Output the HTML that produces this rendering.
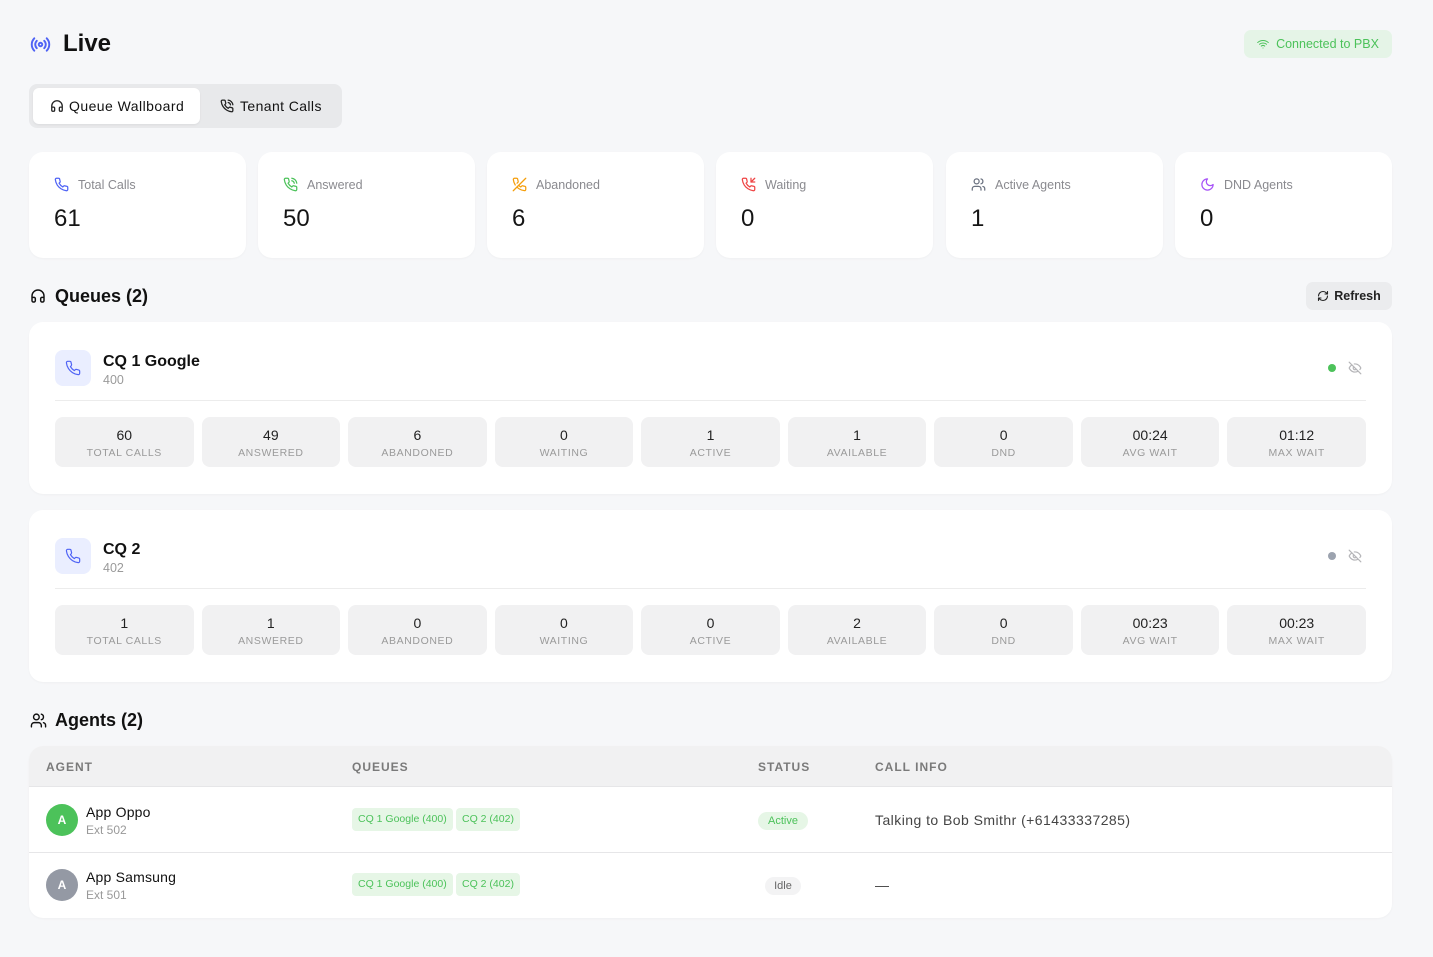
<!DOCTYPE html>
<html><head><meta charset="utf-8">
<style>
*{box-sizing:border-box;margin:0;padding:0}
body{width:1433px;height:957px;background:#f6f7f9;font-family:"Liberation Sans",sans-serif;color:#111;position:relative;overflow:hidden}
.abs{position:absolute}
svg{display:block}
.card{position:absolute;background:#fff;border-radius:14px;box-shadow:0 1px 2px rgba(0,0,0,0.03)}
.slabel{position:absolute;left:49px;top:26px;font-size:12.5px;color:#8a8a8f;line-height:14px}
.sicon{position:absolute;left:25px;top:25px}
.snum{position:absolute;left:25px;top:52px;font-size:24px;line-height:30px;color:#151515}
.qicon{position:absolute;left:26px;width:36px;height:36px;border-radius:8px;background:#eaeeff;display:flex;align-items:center;justify-content:center}
.qtitle{position:absolute;left:74px;font-size:16px;font-weight:bold;color:#111;line-height:20px}
.qsub{position:absolute;left:74px;font-size:12.5px;color:#9a9a9a;line-height:14px}
.div{position:absolute;left:26px;right:26px;height:1px;background:#ececec}
.grid{position:absolute;left:26px;right:26px;height:50px;display:grid;grid-template-columns:repeat(9,1fr);gap:8px}
.box{background:#f1f1f2;border-radius:8px;text-align:center}
.box .n{font-size:14px;color:#222;margin-top:10px;line-height:16px}
.box .l{font-size:10.5px;color:#9a9a9a;letter-spacing:0.6px;margin-top:4px;line-height:12px}
.dot{position:absolute;width:8px;height:8px;border-radius:50%}
.th{position:absolute;top:14px;font-size:12px;font-weight:bold;color:#7a7a7a;letter-spacing:1px}
.tag{position:absolute;height:23px;line-height:23px;background:#e6f6e6;color:#4cc25a;font-size:10.5px;border-radius:4px;padding:0 6px;white-space:nowrap}
.av{position:absolute;left:17px;width:32px;height:32px;border-radius:50%;color:#fff;font-size:12px;font-weight:bold;text-align:center;line-height:32px}
.nm{position:absolute;left:57px;font-size:14px;color:#111;line-height:16px;letter-spacing:0.2px}
.ext{position:absolute;left:57px;font-size:12px;color:#999;line-height:14px}
</style></head><body>

<!-- header -->
<div class="abs" style="left:30px;top:34px">
<svg width="21" height="21" viewBox="0 0 24 24" fill="none" stroke="#4f63f5" stroke-width="2.2" stroke-linecap="round" stroke-linejoin="round"><circle cx="12" cy="12" r="2"/><path d="M16.24 7.76a6 6 0 0 1 0 8.49"/><path d="M7.76 16.24a6 6 0 0 1 0-8.49"/><path d="M19.07 4.93a10 10 0 0 1 0 14.14"/><path d="M4.93 19.07a10 10 0 0 1 0-14.14"/></svg>
</div>
<div class="abs" style="left:63px;top:29px;font-size:24px;font-weight:bold;line-height:30px;color:#111">Live</div>

<div class="abs" style="left:1244px;top:30px;width:148px;height:28px;background:#e5f4e7;border-radius:7px;display:flex;align-items:center;justify-content:center;gap:7px;color:#4cc25a;font-size:12.5px">
<svg width="12" height="12" viewBox="0 0 24 24" fill="none" stroke="#4cc25a" stroke-width="2" stroke-linecap="round"><path d="M5 12.55a11 11 0 0 1 14.08 0"/><path d="M1.42 9a16 16 0 0 1 21.16 0"/><path d="M8.53 16.11a6 6 0 0 1 6.95 0"/><line x1="12" y1="20" x2="12.01" y2="20"/></svg>
<span>Connected to PBX</span></div>

<!-- tabs -->
<div class="abs" style="left:29px;top:84px;width:313px;height:44px;background:#e8e9eb;border-radius:8px"></div>
<div class="abs" style="left:33px;top:88px;width:167px;height:36px;background:#fff;border-radius:6px;box-shadow:0 1px 2px rgba(0,0,0,0.06)"></div>
<div class="abs" style="left:50px;top:99px"><svg width="14" height="14" viewBox="0 0 24 24" fill="none" stroke="#222" stroke-width="2.2" stroke-linecap="round" stroke-linejoin="round"><path d="M3 14h3a2 2 0 0 1 2 2v3a2 2 0 0 1-2 2H5a2 2 0 0 1-2-2v-7a9 9 0 0 1 18 0v7a2 2 0 0 1-2 2h-1a2 2 0 0 1-2-2v-3a2 2 0 0 1 2-2h3"/></svg></div>
<div class="abs" style="left:69px;top:97px;font-size:14px;line-height:18px;color:#111;letter-spacing:0.45px">Queue Wallboard</div>
<div class="abs" style="left:220px;top:99px"><svg width="14" height="14" viewBox="0 0 24 24" fill="none" stroke="#222" stroke-width="2.2" stroke-linecap="round" stroke-linejoin="round"><path d="M22 16.92v3a2 2 0 0 1-2.18 2 19.79 19.79 0 0 1-8.63-3.070 19.5 19.5 0 0 1-6-6 19.79 19.79 0 0 1-3.07-8.67A2 2 0 0 1 4.11 2h3a2 2 0 0 1 2 1.72 12.84 12.84 0 0 0 .7 2.81 2 2 0 0 1-.45 2.11L8.09 9.910a16 16 0 0 0 6 6l1.27-1.27a2 2 0 0 1 2.11-.45 12.84 12.84 0 0 0 2.81.7A2 2 0 0 1 22 16.92z"/><path d="M14.05 2a9 9 0 0 1 8 7.94"/><path d="M14.05 6A5 5 0 0 1 18 10"/></svg></div>
<div class="abs" style="left:240px;top:97px;font-size:14px;line-height:18px;color:#111;letter-spacing:0.4px">Tenant Calls</div>

<!-- stat cards -->
<div class="card" style="left:29px;top:152px;width:217px;height:106px">
<div class="sicon"><svg width="15" height="15" viewBox="0 0 24 24" fill="none" stroke="#4f63f5" stroke-width="2" stroke-linecap="round" stroke-linejoin="round"><path d="M22 16.92v3a2 2 0 0 1-2.18 2 19.79 19.790 0 0 1-8.63-3.07 19.5 19.5 0 0 1-6-6 19.79 19.79 0 0 1-3.07-8.67A2 2 0 0 1 4.11 2h3a2 2 0 0 1 2 1.72 12.84 12.84 0 0 0 .7 2.81 2 2 0 0 1-.45 2.11L8.09 9.91a16 16 0 0 0 6 6l1.27-1.27a2 2 0 0 1 2.11-.45 12.84 12.84 0 0 0 2.81.7A2 2 0 0 1 22 16.92z"/></svg></div>
<div class="slabel">Total Calls</div><div class="snum">61</div></div>

<div class="card" style="left:258px;top:152px;width:217px;height:106px">
<div class="sicon"><svg width="15" height="15" viewBox="0 0 24 24" fill="none" stroke="#4cc25a" stroke-width="2" stroke-linecap="round" stroke-linejoin="round"><path d="M22 16.92v3a2 2 0 0 1-2.18 2 19.79 19.79 0 0 1-8.63-3.07 19.5 19.5 0 0 1-6-6 19.79 19.79 0 0 1-3.07-8.67A2 2 0 0 1 4.11 2h3a2 2 0 0 1 2 1.72 12.84 12.84 0 0 0 .7 2.81 2 2 0 0 1-.45 2.11L8.09 9.91a16 16 0 0 0 6 6l1.27-1.27a2 2 0 0 1 2.11-.45 12.84 12.84 0 0 0 2.81.7A2 2 0 0 1 22 16.92z"/><path d="M14.05 2a9 9 0 0 1 8 7.94"/><path d="M14.05 6A5 5 0 0 1 18 10"/></svg></div>
<div class="slabel">Answered</div><div class="snum">50</div></div>

<div class="card" style="left:487px;top:152px;width:217px;height:106px">
<div class="sicon"><svg width="15" height="15" viewBox="0 0 24 24" fill="none" stroke="#f59e0b" stroke-width="2" stroke-linecap="round" stroke-linejoin="round"><path d="M10.68 13.31a16 16 0 0 0 3.41 2.6l1.27-1.27a2 2 0 0 1 2.11-.45 12.84 12.84 0 0 0 2.81.7 2 2 0 0 1 1.72 2v3a2 2 0 0 1-2.18 2 19.79 19.79 0 0 1-8.63-3.07 19.42 19.42 0 0 1-3.33-2.67m-2.67-3.34a19.79 19.79 0 0 1-3.07-8.63A2 2 0 0 1 4.11 2h3a2 2 0 0 1 2 1.72 12.84 12.84 0 0 0 .7 2.81 2 2 0 0 1-.45 2.11L8.09 9.91"/><line x1="22" y1="2" x2="2" y2="22"/></svg></div>
<div class="slabel">Abandoned</div><div class="snum">6</div></div>

<div class="card" style="left:716px;top:152px;width:217px;height:106px">
<div class="sicon"><svg width="15" height="15" viewBox="0 0 24 24" fill="none" stroke="#ef4444" stroke-width="2" stroke-linecap="round" stroke-linejoin="round"><polyline points="16 2 16 8 22 8"/><line x1="22" y1="2" x2="16" y2="8"/><path d="M22 16.92v3a2 2 0 0 1-2.18 2 19.79 19.79 0 0 1-8.63-3.07 19.5 19.5 0 0 1-6-6 19.79 19.79 0 0 1-3.07-8.67A2 2 0 0 1 4.11 2h3a2 2 0 0 1 2 1.72 12.84 12.84 0 0 0 .7 2.81 2 2 0 0 1-.45 2.11L8.09 9.91a16 16 0 0 0 6 6l1.27-1.27a2 2 0 0 1 2.11-.45 12.84 12.84 0 0 0 2.81.7A2 2 0 0 1 22 16.92z"/></svg></div>
<div class="slabel">Waiting</div><div class="snum">0</div></div>

<div class="card" style="left:946px;top:152px;width:217px;height:106px">
<div class="sicon"><svg width="15" height="15" viewBox="0 0 24 24" fill="none" stroke="#6b7280" stroke-width="2" stroke-linecap="round" stroke-linejoin="round"><path d="M16 21v-2a4 4 0 0 0-4-4H6a4 4 0 0 0-4 4v2"/><circle cx="9" cy="7" r="4"/><path d="M22 21v-2a4 4 0 0 0-3-3.87"/><path d="M16 3.13a4 4 0 0 1 0 7.75"/></svg></div>
<div class="slabel">Active Agents</div><div class="snum">1</div></div>

<div class="card" style="left:1175px;top:152px;width:217px;height:106px">
<div class="sicon"><svg width="15" height="15" viewBox="0 0 24 24" fill="none" stroke="#a855f7" stroke-width="2" stroke-linecap="round" stroke-linejoin="round"><path d="M12 3a6 6 0 0 0 9 9 9 9 0 1 1-9-9Z"/></svg></div>
<div class="slabel">DND Agents</div><div class="snum">0</div></div>

<!-- queues header -->
<div class="abs" style="left:30px;top:288px"><svg width="16" height="16" viewBox="0 0 24 24" fill="none" stroke="#111" stroke-width="2.2" stroke-linecap="round" stroke-linejoin="round"><path d="M3 14h3a2 2 0 0 1 2 2v3a2 2 0 0 1-2 2H5a2 2 0 0 1-2-2v-7a9 9 0 0 1 18 0v7a2 2 0 0 1-2 2h-1a2 2 0 0 1-2-2v-3a2 2 0 0 1 2-2h3"/></svg></div>
<div class="abs" style="left:55px;top:285px;font-size:18px;font-weight:bold;line-height:22px">Queues (2)</div>
<div class="abs" style="left:1306px;top:282px;width:86px;height:28px;background:#ebecee;border-radius:7px;display:flex;align-items:center;justify-content:center;gap:5px;font-size:12.5px;font-weight:bold;color:#222">
<svg width="12" height="12" viewBox="0 0 24 24" fill="none" stroke="#222" stroke-width="2.2" stroke-linecap="round" stroke-linejoin="round"><path d="M3 12a9 9 0 0 1 9-9 9.75 9.75 0 0 1 6.74 2.74L21 8"/><path d="M21 3v5h-5"/><path d="M21 12a9 9 0 0 1-9 9 9.75 9.75 0 0 1-6.74-2.74L3 16"/><path d="M8 16H3v5"/></svg><span>Refresh</span></div>

<!-- queue card 1 -->
<div class="card" style="left:29px;top:322px;width:1363px;height:172px">
<div class="qicon" style="top:28px"><svg width="16" height="16" viewBox="0 0 24 24" fill="none" stroke="#4f63f5" stroke-width="1.8" stroke-linecap="round" stroke-linejoin="round"><path d="M22 16.92v3a2 2 0 0 1-2.18 2 19.79 19.79 0 0 1-8.63-3.07 19.5 19.5 0 0 1-6-6 19.79 19.79 0 0 1-3.07-8.67A2 2 0 0 1 4.11 2h3a2 2 0 0 1 2 1.72 12.84 12.84 0 0 0 .7 2.81 2 2 0 0 1-.45 2.11L8.09 9.91a16 16 0 0 0 6 6l1.27-1.27a2 2 0 0 1 2.11-.45 12.84 12.84 0 0 0 2.81.7A2 2 0 0 1 22 16.92z"/></svg></div>
<div class="qtitle" style="top:30px">CQ 1 Google</div>
<div class="qsub" style="top:51px">400</div>
<div class="dot" style="left:1299px;top:42px;background:#4cc25a"></div>
<div class="abs" style="left:1319px;top:39px"><svg width="14" height="14" viewBox="0 0 24 24" fill="none" stroke="#b5b5b8" stroke-width="2" stroke-linecap="round" stroke-linejoin="round"><path d="M9.88 9.88a3 3 0 1 0 4.24 4.24"/><path d="M10.73 5.08A10.43 10.43 0 0 1 12 5c7 0 10 7 10 7a13.16 13.16 0 0 1-1.67 2.68"/><path d="M6.61 6.61A13.526 13.526 0 0 0 2 12s3 7 10 7a9.74 9.74 0 0 0 5.39-1.61"/><line x1="2" y1="2" x2="22" y2="22"/></svg></div>
<div class="div" style="top:78px"></div>
<div class="grid" style="top:95px">
<div class="box"><div class="n">60</div><div class="l">TOTAL CALLS</div></div>
<div class="box"><div class="n">49</div><div class="l">ANSWERED</div></div>
<div class="box"><div class="n">6</div><div class="l">ABANDONED</div></div>
<div class="box"><div class="n">0</div><div class="l">WAITING</div></div>
<div class="box"><div class="n">1</div><div class="l">ACTIVE</div></div>
<div class="box"><div class="n">1</div><div class="l">AVAILABLE</div></div>
<div class="box"><div class="n">0</div><div class="l">DND</div></div>
<div class="box"><div class="n">00:24</div><div class="l">AVG WAIT</div></div>
<div class="box"><div class="n">01:12</div><div class="l">MAX WAIT</div></div>
</div>
</div>

<!-- queue card 2 -->
<div class="card" style="left:29px;top:510px;width:1363px;height:172px">
<div class="qicon" style="top:28px"><svg width="16" height="16" viewBox="0 0 24 24" fill="none" stroke="#4f63f5" stroke-width="1.8" stroke-linecap="round" stroke-linejoin="round"><path d="M22 16.92v3a2 2 0 0 1-2.18 2 19.79 19.79 0 0 1-8.63-3.07 19.5 19.5 0 0 1-6-6 19.79 19.79 0 0 1-3.07-8.67A2 2 0 0 1 4.11 2h3a2 2 0 0 1 2 1.72 12.84 12.84 0 0 0 .7 2.81 2 2 0 0 1-.45 2.11L8.09 9.91a16 16 0 0 0 6 6l1.27-1.27a2 2 0 0 1 2.11-.45 12.84 12.84 0 0 0 2.81.7A2 2 0 0 1 22 16.92z"/></svg></div>
<div class="qtitle" style="top:30px">CQ 2</div>
<div class="qsub" style="top:51px">402</div>
<div class="dot" style="left:1299px;top:42px;background:#9ca3af"></div>
<div class="abs" style="left:1319px;top:39px"><svg width="14" height="14" viewBox="0 0 24 24" fill="none" stroke="#b5b5b8" stroke-width="2" stroke-linecap="round" stroke-linejoin="round"><path d="M9.88 9.88a3 3 0 1 0 4.24 4.24"/><path d="M10.73 5.08A10.43 10.43 0 0 1 12 5c7 0 10 7 10 7a13.16 13.16 0 0 1-1.67 2.68"/><path d="M6.61 6.61A13.526 13.526 0 0 0 2 12s3 7 10 7a9.74 9.74 0 0 0 5.39-1.61"/><line x1="2" y1="2" x2="22" y2="22"/></svg></div>
<div class="div" style="top:78px"></div>
<div class="grid" style="top:95px">
<div class="box"><div class="n">1</div><div class="l">TOTAL CALLS</div></div>
<div class="box"><div class="n">1</div><div class="l">ANSWERED</div></div>
<div class="box"><div class="n">0</div><div class="l">ABANDONED</div></div>
<div class="box"><div class="n">0</div><div class="l">WAITING</div></div>
<div class="box"><div class="n">0</div><div class="l">ACTIVE</div></div>
<div class="box"><div class="n">2</div><div class="l">AVAILABLE</div></div>
<div class="box"><div class="n">0</div><div class="l">DND</div></div>
<div class="box"><div class="n">00:23</div><div class="l">AVG WAIT</div></div>
<div class="box"><div class="n">00:23</div><div class="l">MAX WAIT</div></div>
</div>
</div>

<!-- agents header -->
<div class="abs" style="left:30px;top:712px"><svg width="17" height="17" viewBox="0 0 24 24" fill="none" stroke="#111" stroke-width="2" stroke-linecap="round" stroke-linejoin="round"><path d="M16 21v-2a4 4 0 0 0-4-4H6a4 4 0 0 0-4 4v2"/><circle cx="9" cy="7" r="4"/><path d="M22 21v-2a4 4 0 0 0-3-3.87"/><path d="M16 3.13a4 4 0 0 1 0 7.75"/></svg></div>
<div class="abs" style="left:55px;top:709px;font-size:18px;font-weight:bold;line-height:22px">Agents (2)</div>

<!-- table -->
<div class="card" style="left:29px;top:746px;width:1363px;height:172px;overflow:hidden">
<div class="abs" style="left:0;top:0;width:1363px;height:41px;background:#f1f1f2;border-bottom:1px solid #e6e6e8"></div>
<div class="th" style="left:17px">AGENT</div>
<div class="th" style="left:323px">QUEUES</div>
<div class="th" style="left:729px">STATUS</div>
<div class="th" style="left:846px">CALL INFO</div>

<div class="av" style="top:58px;background:#4cc25a">A</div>
<div class="nm" style="top:58px">App Oppo</div>
<div class="ext" style="top:77px">Ext 502</div>
<div class="tag" style="left:323px;top:62px">CQ 1 Google (400)</div>
<div class="tag" style="left:427px;top:62px">CQ 2 (402)</div>
<div class="abs" style="left:729px;top:66px;width:50px;height:18px;border-radius:9px;background:#e6f6e6;color:#4cc25a;font-size:11px;line-height:18px;text-align:center">Active</div>
<div class="abs" style="left:846px;top:65px;font-size:14px;color:#444;line-height:18px;letter-spacing:0.45px">Talking to Bob Smithr (+61433337285)</div>

<div class="abs" style="left:0;top:106px;width:1363px;height:1px;background:#e6e6e8"></div>

<div class="av" style="top:123px;background:#9499a4">A</div>
<div class="nm" style="top:123px">App Samsung</div>
<div class="ext" style="top:142px">Ext 501</div>
<div class="tag" style="left:323px;top:127px">CQ 1 Google (400)</div>
<div class="tag" style="left:427px;top:127px">CQ 2 (402)</div>
<div class="abs" style="left:736px;top:131px;width:36px;height:18px;border-radius:9px;background:#f3f3f4;color:#666;font-size:11px;line-height:18px;text-align:center">Idle</div>
<div class="abs" style="left:846px;top:130px;font-size:14px;color:#444;line-height:18px">—</div>
</div>

</body></html>
